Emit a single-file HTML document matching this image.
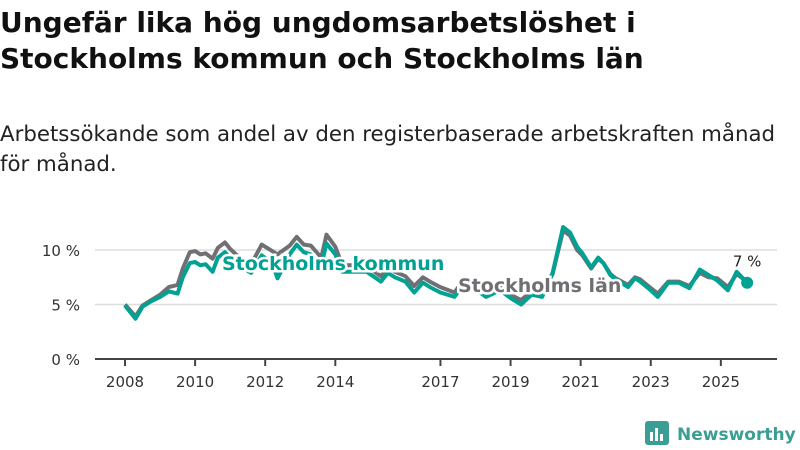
<!DOCTYPE html>
<html><head><meta charset="utf-8"><style>
body{margin:0;background:#fff;width:800px;height:450px;overflow:hidden;font-family:"Liberation Sans","DejaVu Sans",sans-serif}
</style></head><body>
<svg width="800" height="450" style="position:absolute;left:0;top:0">
<text x="0" y="32" font-size="28" font-weight="bold" fill="#111" font-family="DejaVu Sans, sans-serif">Ungefär lika hög ungdomsarbetslöshet i</text>
<text x="0" y="68" font-size="28" font-weight="bold" fill="#111" font-family="DejaVu Sans, sans-serif">Stockholms kommun och Stockholms län</text>
<text x="0" y="141" font-size="21.3" fill="#222" font-family="DejaVu Sans, sans-serif">Arbetssökande som andel av den registerbaserade arbetskraften månad</text>
<text x="0" y="171" font-size="21.3" fill="#222" font-family="DejaVu Sans, sans-serif">för månad.</text>
<g id="grid"></g><g id="axis"></g><g id="lines"></g><g id="labels"></g>
<g>
<rect x="645" y="421" width="24" height="24" rx="3" fill="#3a9e94"/>
<rect x="650" y="432" width="3" height="9" fill="#fff"/><rect x="655" y="428" width="3" height="13" fill="#fff"/><rect x="660" y="434" width="3" height="7" fill="#fff"/>
<text x="677" y="440" font-size="17" font-weight="bold" fill="#3a9e94" font-family="DejaVu Sans, sans-serif">Newsworthy</text>
</g>
</svg>
<script>
const dates=[2008.0,2008.3,2008.5,2008.75,2009.0,2009.25,2009.5,2009.65,2009.85,2010.0,2010.15,2010.3,2010.5,2010.65,2010.85,2011.0,2011.3,2011.6,2011.9,2012.2,2012.35,2012.7,2012.9,2013.1,2013.3,2013.6,2013.75,2014.0,2014.2,2014.6,2014.9,2015.3,2015.5,2015.7,2016.0,2016.25,2016.5,2016.7,2017.0,2017.4,2017.6,2018.0,2018.3,2018.7,2019.0,2019.3,2019.6,2019.9,2020.2,2020.5,2020.7,2020.9,2021.05,2021.3,2021.5,2021.65,2021.85,2022.0,2022.35,2022.55,2022.7,2023.0,2023.2,2023.5,2023.8,2024.1,2024.4,2024.65,2024.9,2025.2,2025.45,2025.75];
const kommun=[4.9,3.7,4.8,5.3,5.7,6.2,6.0,7.5,8.8,8.9,8.6,8.7,8.0,9.3,9.8,9.3,8.4,7.9,9.5,8.8,7.4,9.6,10.5,9.8,9.6,8.6,10.6,9.6,8.0,8.0,8.0,7.1,7.9,7.5,7.1,6.1,7.0,6.6,6.1,5.7,6.6,6.4,5.7,6.3,5.6,5.0,5.9,5.7,7.9,12.1,11.6,10.3,9.7,8.4,9.3,8.8,7.7,7.3,6.6,7.4,7.1,6.3,5.7,7.0,7.0,6.5,8.2,7.7,7.2,6.3,8.0,7.0];
const lan=[5.0,3.9,4.9,5.4,5.9,6.6,6.8,8.3,9.8,9.9,9.6,9.7,9.2,10.2,10.7,10.1,9.2,8.7,10.5,9.9,9.6,10.4,11.2,10.5,10.4,9.3,11.4,10.3,8.6,8.6,8.5,7.6,8.4,8.0,7.6,6.7,7.5,7.1,6.6,6.1,7.0,6.8,6.1,6.6,5.9,5.4,6.2,6.0,7.8,11.8,11.3,10.0,9.5,8.3,9.2,8.8,7.8,7.4,6.8,7.5,7.3,6.5,6.0,7.1,7.1,6.7,7.9,7.5,7.4,6.6,7.8,7.1];
const yTicks=[0,5,10];
const xTicks=[2008,2010,2012,2014,2017,2019,2021,2023,2025];
const NS="http://www.w3.org/2000/svg";
const X=v=>125+(v-2008)*35.05, Y=v=>359-v*10.9;
function mk(tag,attrs,parent,txt){const e=document.createElementNS(NS,tag);for(const k in attrs)e.setAttribute(k,attrs[k]);if(txt!=null)e.textContent=txt;document.getElementById(parent).appendChild(e);return e;}
yTicks.forEach(t=>{
 if(t>0){const g=mk('line',{x1:95,x2:777,y1:Y(t),y2:Y(t),stroke:'#ddd','stroke-width':1.5},'grid');
 
 }
 const l=mk('text',{x:80,y:Y(t)+6,'text-anchor':'end','font-size':15,fill:'#333','font-family':'DejaVu Sans, sans-serif'},'axis',t+' %');
 
 
});
const ax=mk('line',{x1:95,x2:777,y1:359,y2:359,stroke:'#444','stroke-width':2},'axis');


xTicks.forEach(t=>{
 const tk=mk('line',{x1:X(t),x2:X(t),y1:359,y2:366,stroke:'#444','stroke-width':2},'axis');
 
 
 const l=mk('text',{x:X(t),y:387,'text-anchor':'middle','font-size':15,fill:'#333','font-family':'DejaVu Sans, sans-serif'},'axis',String(t));
 
 
});
function pts(arr){return arr.map((v,i)=>X(dates[i]).toFixed(1)+','+Y(v).toFixed(1)).join(' ');}
const pl=mk('polyline',{points:pts(lan),fill:'none',stroke:'#706f73','stroke-width':4,'stroke-linejoin':'round'},'lines');


const pk=mk('polyline',{points:pts(kommun),fill:'none',stroke:'#00a294','stroke-width':4,'stroke-linejoin':'round'},'lines');


const last=kommun.length-1;
const dot=mk('circle',{cx:X(dates[last]),cy:Y(kommun[last]),r:6,fill:'#00a294'},'lines');


const vl=mk('text',{x:X(dates[last]),y:Y(kommun[last])-16,'text-anchor':'middle','font-size':15,fill:'#222','font-family':'DejaVu Sans, sans-serif'},'labels',Math.round(kommun[last])+' %');


const lk=mk('text',{x:222,y:270,'font-size':19,'font-weight':'bold',fill:'#00a294',stroke:'#fff','stroke-width':5,'paint-order':'stroke','font-family':'DejaVu Sans, sans-serif'},'labels','Stockholms kommun');


const ll=mk('text',{x:458,y:292,'font-size':19,'font-weight':'bold',fill:'#706f73',stroke:'#fff','stroke-width':5,'paint-order':'stroke','font-family':'DejaVu Sans, sans-serif'},'labels','Stockholms län');


</script>
</body></html>
